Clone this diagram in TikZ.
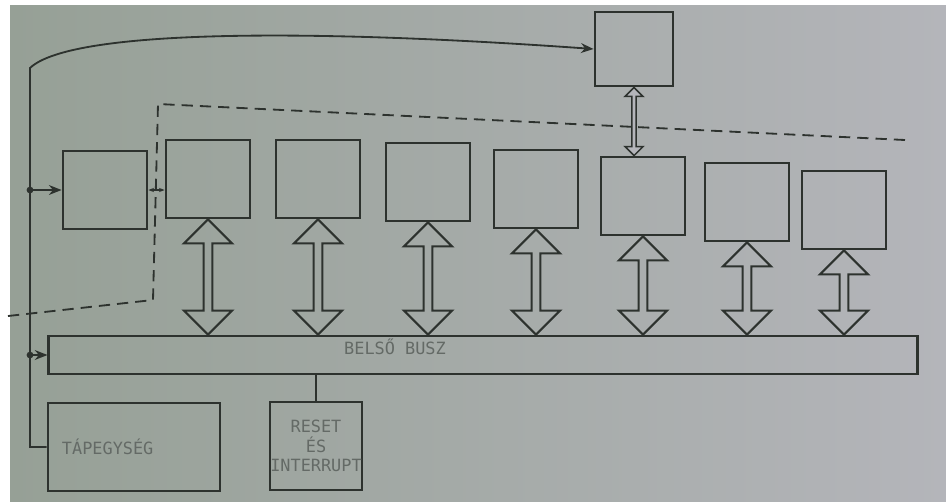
\documentclass[tikz,border=0pt]{standalone}
\usepackage{fontspec}
\setmonofont{DejaVu Sans Mono}
\usetikzlibrary{arrows.meta,shapes.arrows,calc}
\definecolor{ink}{RGB}{45,50,46}
\definecolor{paperl}{RGB}{150,160,150}
\definecolor{paperr}{RGB}{180,181,186}
\definecolor{faded}{RGB}{100,106,102}
\begin{document}
\begin{tikzpicture}[x=0.025cm,y=-0.025cm,>={Stealth[length=9pt,width=7pt]},
unit/.style={draw=ink,line width=2pt,minimum width=2.1cm,minimum height=1.95cm,inner sep=0pt},
busarrow/.style={double arrow,draw=ink,line width=1.5pt,rotate=90,minimum width=1.2cm,double arrow head extend=0.12cm,inner sep=0pt},
thinarrow/.style={double arrow,draw=ink,line width=1.1pt,rotate=90,minimum width=0.45cm,double arrow head extend=0.06cm,inner sep=0pt},
wire/.style={draw=ink,line width=1.3pt},
lbl/.style={text=faded,font=\ttfamily\large}]
\fill[white](0,0)rectangle(946,501);
\shade[left color=paperl,right color=paperr](10,5)rectangle(946,501);
\useasboundingbox(0,0)rectangle(946,501);
\node[unit](b0)at(105,190){};
\node[unit](b1)at(208,179){};
\node[unit](b2)at(318,179){};
\node[unit](b3)at(428,182){};
\node[unit](b4)at(536,189){};
\node[unit](b5)at(643,196){};
\node[unit](b6)at(747,202){};
\node[unit](b7)at(844,210){};
\node[unit,minimum width=1.95cm,minimum height=1.85cm](top)at(634,49){};
\node[unit,minimum width=21.7cm,minimum height=0.95cm](bus)at(483,355){};
\node[lbl](buslbl)at(395,347){BELSŐ BUSZ};
\node[unit,lbl,minimum width=4.3cm,minimum height=2.2cm,text width=3.6cm,align=left](tap)at(134,447){TÁPEGYSÉG};
\node[unit,lbl,minimum width=2.3cm,minimum height=2.2cm,align=center](rst)at(316,446){RESET\\ÉS\\INTERRUPT};
\draw[ink,line width=1.3pt,dash pattern=on 8pt off 5pt](8,316)--(153,300)--(158,104)--(905,140);
\coordinate(pwc)at(30,68);
\draw[wire,->](tap.west)--(tap.west-|pwc)--(pwc)..controls(70,30)and(300,28)..(top.west);
\fill[ink](pwc|-b0.west)circle[radius=2.4pt];
\draw[wire,->](pwc|-b0.west)--(b0.west);
\fill[ink](pwc|-bus.west)circle[radius=2.4pt];
\draw[wire,->](pwc|-bus.west)--(bus.west);
\draw[wire,<->,>={Stealth[length=4pt]}](b0.east)--(b0.east-|b1.west);
\draw[wire](bus.south-|rst.north)--(rst.north);
\foreach \i in {1,...,7}
\path let \p1=(b\i.south),\p2=(bus.north) in node[busarrow,minimum height={\y1-\y2}](ba\i)at(\x1,{(\y1+\y2)/2}){};
\path let \p1=(top.south),\p2=(b5.north) in node[thinarrow,fill=paperr,minimum height={\y1-\y2}](ta)at(\x1,{(\y1+\y2)/2}){};
\end{tikzpicture}
\end{document}
